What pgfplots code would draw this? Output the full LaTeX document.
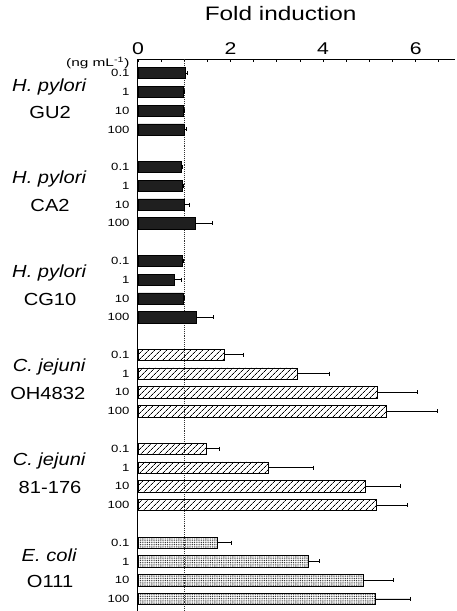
\documentclass[border=0pt]{standalone}
\usepackage{fontspec}
\setmainfont{Liberation Sans}
\usepackage{graphicx}
\usepackage{pgfplots}
\pgfplotsset{compat=1.18}
\usepackage{pgfplotstable}
\usetikzlibrary{patterns.meta}
\newcommand\W[1]{\scalebox{1.25}[1]{#1}}
\newcommand\G[1]{\scalebox{1.15}[1]{#1}}

\pgfplotstableread{
pos val err
0 1.02 0.04
1 0.97 0.04
2 0.97 0.03
3 1.00 0.05
5 0.93 0.04
6 0.95 0.04
7 1.00 0.12
8 1.24 0.36
10 0.95 0.04
11 0.78 0.15
12 0.97 0.04
13 1.26 0.36
}\darkdata
\pgfplotstableread{
pos val err
15 1.87 0.41
16 3.44 0.69
17 5.18 0.85
18 5.37 1.09
20 1.47 0.29
21 2.81 0.97
22 4.91 0.77
23 5.16 0.67
}\hatchdata
\pgfplotstableread{
pos val err
25 1.71 0.30
26 3.67 0.26
27 4.87 0.65
28 5.13 0.76
}\dotdata

\begin{document}
\begin{tikzpicture}
\path[use as bounding box] (-138pt,0pt) rectangle (319pt,611pt);
\begin{axis}[
  scale only axis,
  width=317pt, height=552pt,
  at={(0,0)}, anchor=south west,
  xmin=0, xmax=6.85,
  ymin=-0.75, ymax=28.64,
  y dir=reverse,
  axis x line*=top,
  axis y line*=left,
  axis line style={-, line width=1pt},
  xtick={0,2,4,6},
  xticklabels={\W{0},\W{2},\W{4},\W{6}},
  minor xtick={0.5,1,...,6.5},
  tick align=inside,
  major tick length=3pt,
  minor tick length=2.5pt,
  x tick style={line width=0.8pt, black},
  xticklabel style={font=\fontsize{17}{17}\selectfont, yshift=1pt},
  ytick={0,1,2,3,5,6,7,8,10,11,12,13,15,16,17,18,20,21,22,23,25,26,27,28},
  yticklabels={\W{0.1},\W{1},\W{10},\W{100},\W{0.1},\W{1},\W{10},\W{100},\W{0.1},\W{1},\W{10},\W{100},\W{0.1},\W{1},\W{10},\W{100},\W{0.1},\W{1},\W{10},\W{100},\W{0.1},\W{1},\W{10},\W{100}},
  yticklabel style={font=\fontsize{10.5}{10.5}\selectfont, xshift=-2pt},
  y tick style={draw=none},
  xbar,
  bar width=0.6,
  bar shift=0pt,
  clip=false,
  title={\W{Fold induction}},
  title style={font=\fontsize{19.5}{19.5}\selectfont, at={(0.45,1)}, anchor=center, yshift=39pt},
]
\draw[densely dotted, line width=0.9pt, black!80] (axis cs:1,-0.75) -- (axis cs:1,28.64);

\addplot[draw=black, fill=black!88, line width=0.6pt, bar shift=0pt,
  error bars/.cd, x dir=plus, x explicit,
  error bar style={line width=0.8pt, black}, error mark options={rotate=90, mark size=2pt, line width=0.8pt}]
  table[x=val, y=pos, x error=err] {\darkdata};
\addplot[draw=black, line width=0.6pt, bar shift=0pt,
  pattern={Lines[angle=45, distance=4pt, line width=0.7pt]},
  error bars/.cd, x dir=plus, x explicit,
  error bar style={line width=0.8pt, black}, error mark options={rotate=90, mark size=2pt, line width=0.8pt}]
  table[x=val, y=pos, x error=err] {\hatchdata};
\addplot[draw=black, line width=0.6pt, bar shift=0pt,
  pattern={Dots[distance=1.8pt, radius=0.55pt]}, pattern color=black!85,
  error bars/.cd, x dir=plus, x explicit,
  error bar style={line width=0.8pt, black}, error mark options={rotate=90, mark size=2pt, line width=0.8pt}]
  table[x=val, y=pos, x error=err] {\dotdata};

\node[anchor=east, font=\fontsize{11}{11}\selectfont, inner sep=0pt] at (axis cs:-0.18,-0.55) {\scalebox{1.4}[1]{(ng mL\textsuperscript{-1})}};

\tikzset{glab/.style={font=\fontsize{17.5}{17.5}\selectfont}}
\node[glab] at (axis cs:-1.92,0.75) {\G{\itshape H. pylori}};
\node[glab] at (axis cs:-1.9,2.1) {\G{GU2}};
\node[glab] at (axis cs:-1.92,5.65) {\G{\itshape H. pylori}};
\node[glab] at (axis cs:-1.9,7.05) {\G{CA2}};
\node[glab] at (axis cs:-1.92,10.65) {\G{\itshape H. pylori}};
\node[glab] at (axis cs:-1.9,12.05) {\G{CG10}};
\node[glab] at (axis cs:-1.92,15.65) {\G{\itshape C. jejuni}};
\node[glab] at (axis cs:-1.95,17.05) {\G{OH4832}};
\node[glab] at (axis cs:-1.92,20.65) {\G{\itshape C. jejuni}};
\node[glab] at (axis cs:-1.9,22.05) {\G{81-176}};
\node[glab] at (axis cs:-1.92,25.65) {\G{\itshape E. coli}};
\node[glab] at (axis cs:-1.9,27.05) {\G{O111}};
\end{axis}
\end{tikzpicture}
\end{document}
